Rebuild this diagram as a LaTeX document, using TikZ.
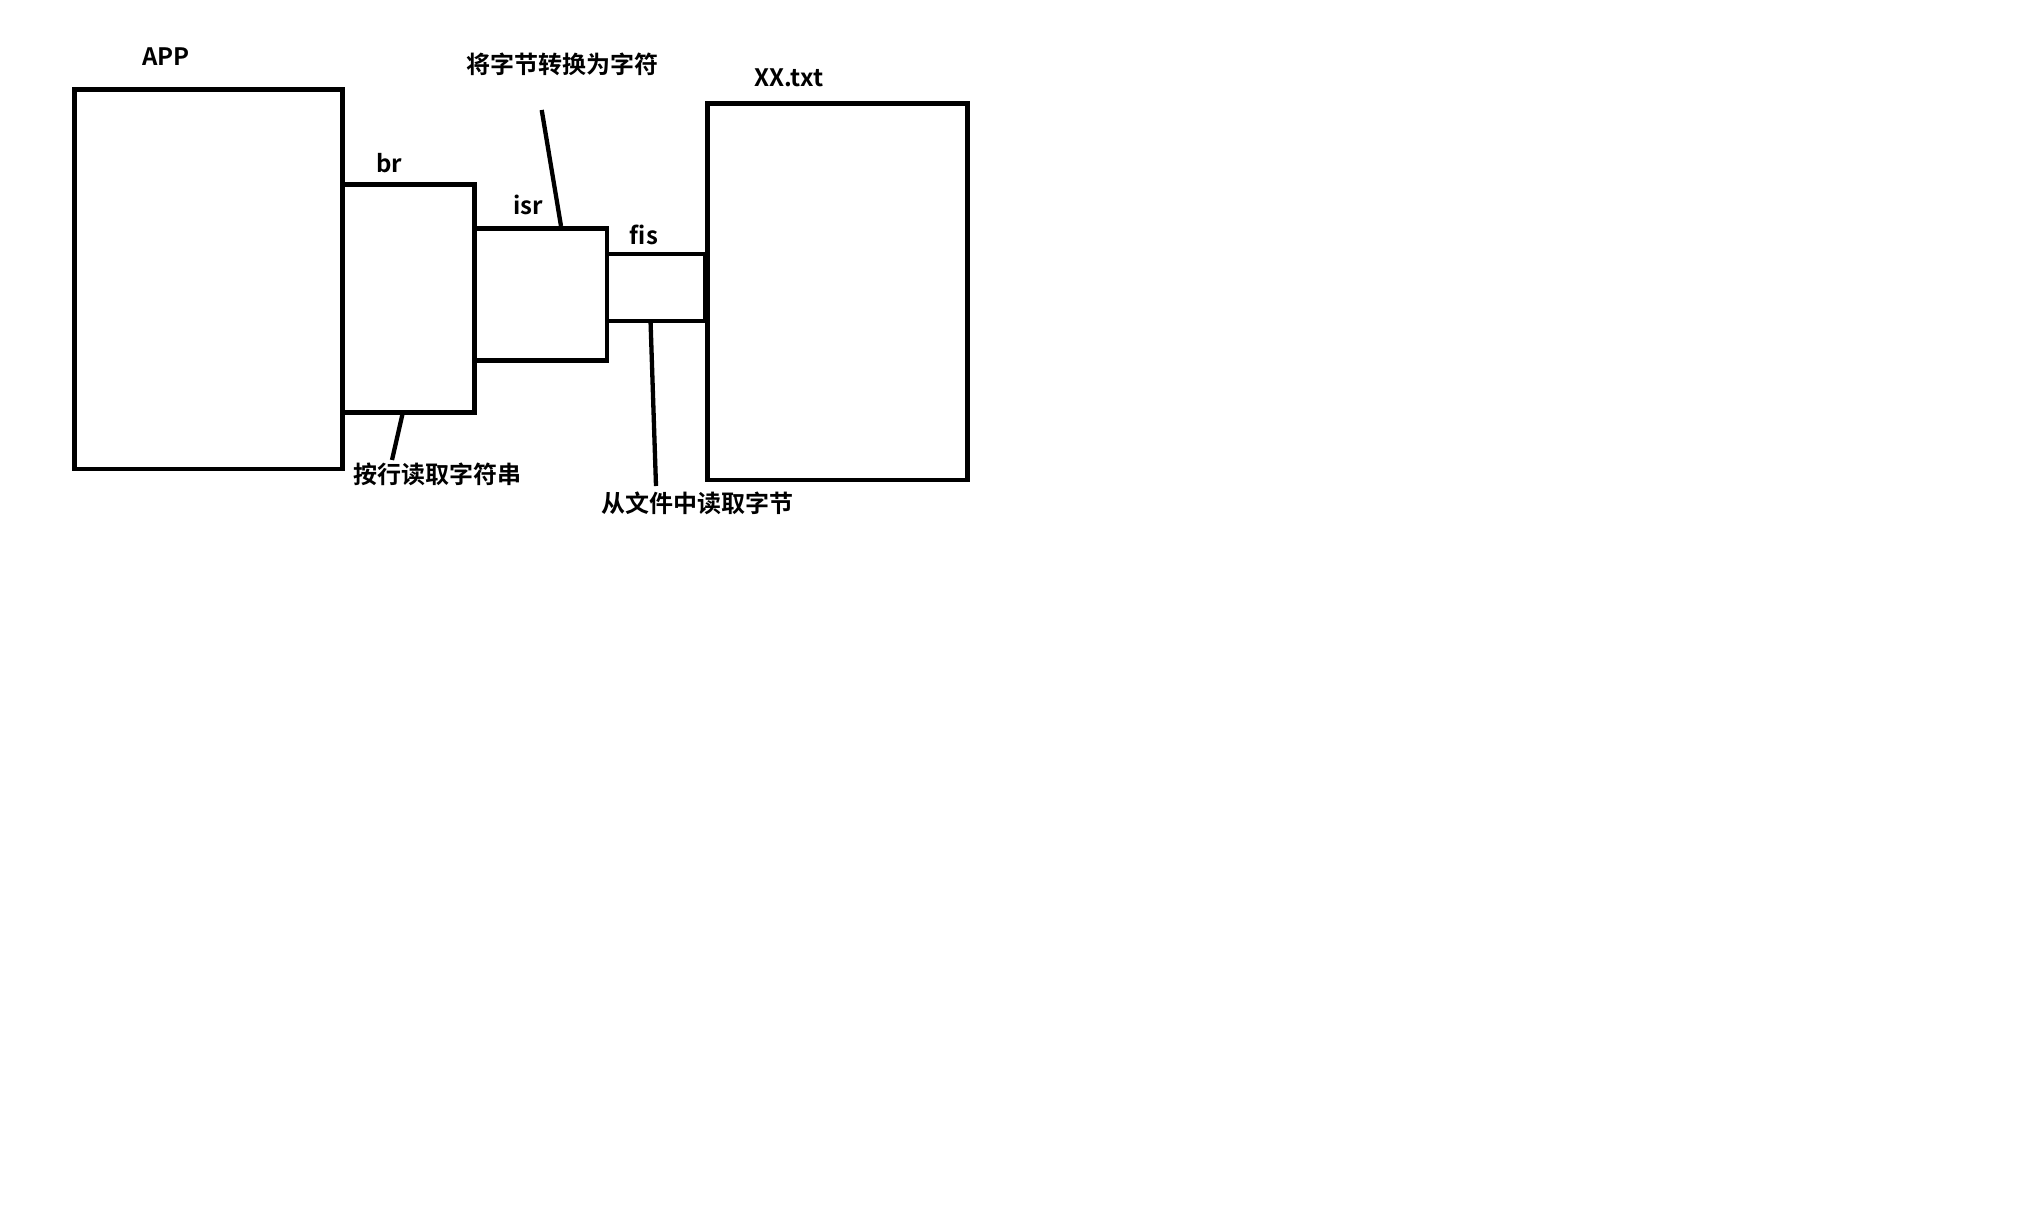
\documentclass[tikz,border=0pt]{standalone}
\usepackage{fontspec}
\setmainfont{Noto Sans CJK SC}[BoldFont={* Bold}]
\begin{document}
\begin{tikzpicture}[x=1pt,y=-1pt,
  box/.style={draw=black,line width=4.7pt,fill=none,inner sep=0pt,outer sep=0pt},
  lbl/.style={inner sep=0pt,font=\fontsize{24}{27}\selectfont\bfseries},
  lead/.style={draw=black,line width=4.3pt}]
\fill[white] (0,0) rectangle (2036,1210);
\useasboundingbox (0,0) rectangle (2036,1210);
% boxes
\node[box,minimum width=268.2pt,minimum height=379.7pt] (app) at (208.4,279.15) {};
\node[box,minimum width=132pt,minimum height=228.3pt] (br) at (408.5,298.35) {};
\node[box,minimum width=132.5pt,minimum height=132pt] (isr) at (540.75,294.2) {};
\node[box,minimum width=98pt,minimum height=67pt] (fis) at (656,287.5) {};
\node[box,minimum width=260pt,minimum height=376.5pt] (xx) at (837.5,291.75) {};
% labels
\node[lbl] (lapp) at (166,57) {APP};
\node[lbl] (lbr) at (389,163) {br};
\node[lbl] (lisr) at (528,205) {isr};
\node[lbl] (lfis) at (644,235) {fis};
\node[lbl] (lxx) at (789,78) {XX.txt};
\node[lbl] (lconv) at (562,64) {将字节转换为字符};
\node[lbl] (lline) at (437,474) {按行读取字符串};
\node[lbl] (lread) at (697,503) {从文件中读取字节};
% leader lines
\coordinate (c1a) at (541.7,110);
\coordinate (c1b) at (561,226);
\coordinate (c2a) at (402.5,414);
\coordinate (c2b) at (392,460);
\coordinate (c3a) at (650.6,323);
\coordinate (c3b) at (656,486);
\draw[lead] (c1a) -- (c1b);
\draw[lead] (c2a) -- (c2b);
\draw[lead] (c3a) -- (c3b);
\end{tikzpicture}
\end{document}
